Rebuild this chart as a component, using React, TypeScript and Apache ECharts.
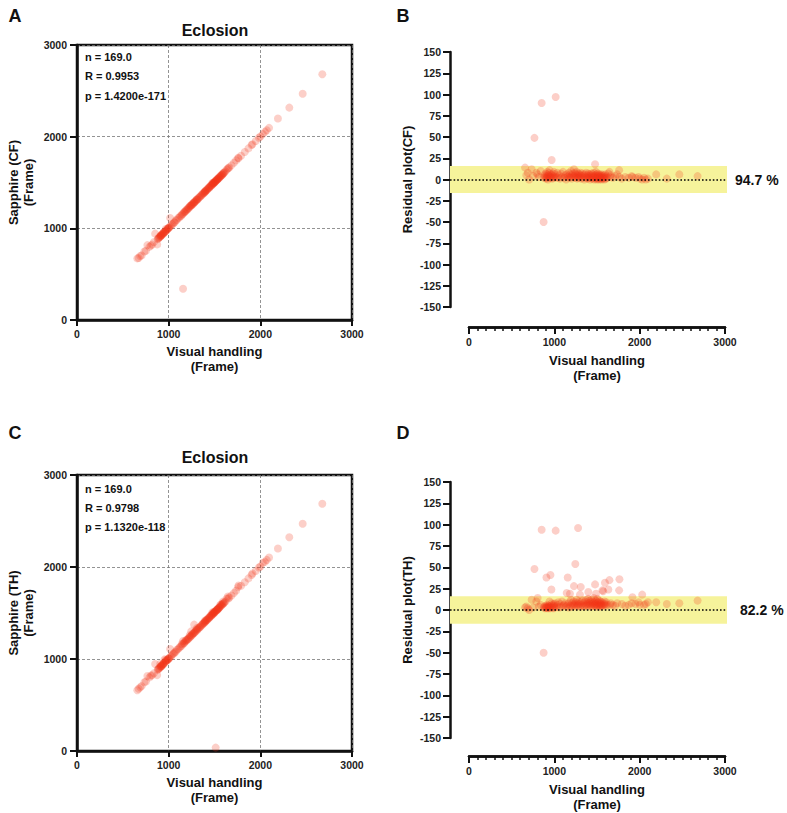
import React, { useEffect, useRef } from "react";
import * as echarts from "echarts";

// Visual handling (Frame) for each of the 169 individuals
const visual = [
  658, 672, 690, 705, 735, 752, 768, 790, 805, 820, 840, 852, 875,
  880, 885, 892, 897, 903, 908, 912, 915, 918, 921,
  927, 933, 938, 942, 944, 948, 955, 960, 966, 969,
  972, 978, 985, 990, 996, 1000, 1003, 1010, 1016, 1024,
  1035, 1047, 1058, 1066, 1078, 1090, 1102, 1115, 1126, 1138,
  1145, 1152, 1157, 1163, 1170, 1176, 1183, 1190, 1196, 1204,
  1210, 1217, 1224, 1230, 1236, 1241, 1246, 1250, 1255, 1261,
  1268, 1274, 1278, 1280, 1287, 1293, 1300, 1306, 1309, 1313,
  1320, 1328, 1336, 1343, 1351, 1358, 1364, 1371, 1378, 1384,
  1390, 1395, 1398, 1400, 1406, 1412, 1418, 1423, 1429, 1434,
  1440, 1445, 1450, 1456, 1461, 1466, 1470, 1474, 1477, 1481,
  1485, 1488, 1490, 1494, 1498, 1502, 1506, 1510, 1513, 1517,
  1521, 1526, 1530, 1532, 1535, 1540, 1544, 1549, 1554, 1558,
  1563, 1568, 1572, 1577, 1582, 1587, 1592, 1597, 1602, 1608,
  1620, 1632, 1645, 1652, 1660,
  1685, 1712, 1735, 1758, 1762, 1790, 1830, 1870, 1905, 1914,
  1950, 1985, 2000, 2028, 2050, 2070, 2095, 2192, 2316, 2462, 2676,
];

// Residual Sapphire(CF) - Visual (Frame)
const residualCF = [
  14, 5, 8, 0, 12, 4, 49, 8, 6, 3, 10, 90, -50,
  2, 5, 3, 7, 1, 4, 2, 6, 9, 3,
  0, 5, 8, 2, 11, 4, 3, 6, 2, 23,
  5, 1, 7, 3, 9, 4, 2, 6, 97, 3,
  8, 2, 5, 1, 7, 3, 9, 2, 5, 0,
  6, 3, -816, 4, 8, 2, 6, 3, 10, 1,
  5, 7, 3, 12, 4, 8, 2, 6, 3, 9,
  1, 5, 4, 7, 2, 6, 3, 8, 5, 1,
  4, 7, 2, 5, 0, 6, 3, 8, 2, 5,
  1, 4, 7, 2, 6, 3, 0, 5, 2, 7,
  4, 1, 6, 3, 8, 0, 4, 2, 18, 5,
  1, 9, 3, 6, 0, 4, 2, 7, 1, 5,
  3, 0, 6, 2, 4, 1, 5, 3, 0, 6,
  2, 4, 1, 5, 2, 0, 3, 6, 1, 4,
  2, 7, 9, 3, 5,
  2, 4, 6, 11, 3, 1, 3, 2, 4, 3,
  2, 3, 1, 0, 2, 0, 1, 6, 1, 6, 4,
];

// Residual Sapphire(TH) - Visual (Frame)
const residualTH = [
  3, 4, 2, 0, 12, 3, 48, 10, 14, 4, 6, 94, -50,
  3, 4, 2, 5, 3, 38, 4, 3, 6, 2,
  3, 5, 4, 3, 10, 2, 41, 5, 24, 8,
  3, 6, 4, 2, 7, 5, 3, 8, 93, 4,
  6, 9, 3, 7, 4, 10, 5, 6, 8, 4,
  20, 5, 38, 7, 3, 9, 19, 5, 12, 4,
  8, 6, 10, 28, 5, 7, 54, 9, 4, 12,
  6, 8, 96, 5, 10, 7, 18, 4, 27, 9,
  6, 11, 5, 8, 4, 10, 6, 12, 5, 9,
  7, 13, 21, 5, 8, 11, 6, 9, 4, 12,
  7, 5, 10, 8, 14, 5, 9, 6, 30, 11,
  7, 19, 4, 10, 6, 13, 5, 8, -1476, 9,
  6, 11, 5, 8, 4, 10, 7, 5, 9, 6,
  23, 5, 22, 8, 6, 10, 32, 7, 5, 9,
  6, 24, 35, 6, 8,
  6, 5, 8, 23, 36, 7, 5, 6, 8, 15,
  7, 9, 6, 18, 6, 7, 9, 9, 7, 8, 11,
];

const statsCF = ["n = 169.0", "R = 0.9953", "p = 1.4200e-171"];
const statsTH = ["n = 169.0", "R = 0.9798", "p = 1.1320e-118"];
const percentCF = "94.7 %";
const percentTH = "82.2 %";
const bandLimit = 16;

const FONT = "'Liberation Sans', Arial, Helvetica, sans-serif";
const DOT = "rgba(242,55,25,0.3)";
const INK = "#111";
const plain = (v: number) => String(v);

const labelStyle = (margin: number) => ({
  margin,
  fontSize: 10.5,
  fontWeight: "bold",
  color: "#222",
  fontFamily: FONT,
  formatter: plain,
});

const nameStyle = { fontSize: 13, fontWeight: "bold", lineHeight: 15, color: INK, fontFamily: FONT };

function scatterAxisX(gridIndex: number) {
  return {
    gridIndex,
    type: "value",
    min: 0,
    max: 3000,
    interval: 1000,
    axisLine: { show: true, onZero: false, lineStyle: { color: INK, width: 2.5 } },
    axisTick: { show: true, length: 6, lineStyle: { color: INK, width: 2 } },
    axisLabel: labelStyle(8),
    splitLine: { show: true, lineStyle: { color: "#777", width: 0.8, type: [3, 2] } },
    name: "Visual handling\n(Frame)",
    nameLocation: "middle",
    nameGap: 24,
    nameTextStyle: nameStyle,
  };
}

function scatterAxisY(gridIndex: number, name: string) {
  return {
    gridIndex,
    type: "value",
    min: 0,
    max: 3000,
    interval: 1000,
    axisLine: { show: true, onZero: false, lineStyle: { color: INK, width: 2.5 } },
    axisTick: { show: true, length: 7, lineStyle: { color: INK, width: 2 } },
    axisLabel: labelStyle(10),
    splitLine: { show: true, lineStyle: { color: "#777", width: 0.8, type: [3, 2] } },
    name,
    nameLocation: "middle",
    nameGap: 41,
    nameTextStyle: nameStyle,
  };
}

function residualAxisY(gridIndex: number, name: string) {
  return {
    gridIndex,
    type: "value",
    min: -150,
    max: 150,
    interval: 25,
    axisLine: { show: true, onZero: false, lineStyle: { color: INK, width: 2.5 } },
    axisTick: { show: true, length: 7, lineStyle: { color: INK, width: 2 } },
    axisLabel: labelStyle(9),
    splitLine: { show: false },
    name,
    nameLocation: "middle",
    nameGap: 35,
    nameTextStyle: nameStyle,
  };
}

function hiddenAxisX(gridIndex: number) {
  return { gridIndex, type: "value", min: -220, max: 3020, show: false };
}

// Minor ticks every 100 frames
function minorTickAxisX(gridIndex: number) {
  return {
    gridIndex,
    type: "value",
    position: "bottom",
    min: 0,
    max: 3000,
    interval: 100,
    axisLine: { show: true, onZero: false, lineStyle: { color: INK, width: 2.5 } },
    axisTick: { show: true, length: 4, lineStyle: { color: INK, width: 1.5 } },
    axisLabel: { show: false },
    splitLine: { show: false },
  };
}

// Major ticks + labels every 1000 frames
function majorTickAxisX(gridIndex: number) {
  return {
    gridIndex,
    type: "value",
    position: "bottom",
    min: 0,
    max: 3000,
    interval: 1000,
    axisLine: { show: true, onZero: false, lineStyle: { color: INK, width: 2.5 } },
    axisTick: { show: true, length: 7, lineStyle: { color: INK, width: 2 } },
    axisLabel: labelStyle(9),
    splitLine: { show: false },
    name: "Visual handling\n(Frame)",
    nameLocation: "middle",
    nameGap: 26,
    nameTextStyle: nameStyle,
  };
}

function hiddenAxisY(gridIndex: number) {
  return { gridIndex, type: "value", min: 0, max: 1, show: false };
}

function textEl(x: number, y: number, text: string, size: number, align = "left") {
  return {
    type: "text",
    x,
    y,
    silent: true,
    style: {
      text,
      fill: INK,
      fontSize: size,
      fontWeight: "bold",
      fontFamily: FONT,
      align,
      textAlign: align,
      verticalAlign: "middle",
      textVerticalAlign: "middle",
    },
  };
}

export default function App() {
  const ref = useRef<HTMLDivElement>(null);

  useEffect(() => {
    if (!ref.current) return;
    const chart = echarts.init(ref.current, undefined, { renderer: "svg" });

    const pairsCF = visual.map((v, i) => [v, v + residualCF[i]]);
    const pairsTH = visual.map((v, i) => [v, v + residualTH[i]]);
    const resCF = visual.map((v, i) => [v, residualCF[i]]);
    const resTH = visual.map((v, i) => [v, residualTH[i]]);

    const dotStyle = { color: DOT, borderWidth: 0 };

    const residualMarkers = (pct: string, dist: number) => ({
      markArea: {
        silent: true,
        itemStyle: { color: "#F6F39B", opacity: 1 },
        data: [[{ yAxis: bandLimit }, { yAxis: -bandLimit }]],
      },
      markLine: {
        silent: true,
        symbol: "none",
        lineStyle: { color: "#000", width: 1.6, type: [1.6, 2] },
        label: {
          show: true,
          position: "end",
          distance: dist,
          formatter: pct,
          fontSize: 14,
          fontWeight: "bold",
          color: INK,
          fontFamily: FONT,
        },
        data: [{ yAxis: 0 }],
      },
    });

    chart.setOption({
      animation: false,
      backgroundColor: "#fff",
      textStyle: { fontFamily: FONT },
      grid: [
        { left: 77, top: 45, width: 275, height: 275, show: true, borderColor: INK, borderWidth: 2.5, backgroundColor: "transparent" },
        { left: 450, top: 52, width: 277, height: 255 },
        { left: 469, top: 307, width: 256, height: 20 },
        { left: 77, top: 475, width: 275, height: 276, show: true, borderColor: INK, borderWidth: 2.5, backgroundColor: "transparent" },
        { left: 450, top: 482, width: 277, height: 256 },
        { left: 469, top: 737, width: 256, height: 20 },
      ],
      xAxis: [
        scatterAxisX(0),
        hiddenAxisX(1),
        minorTickAxisX(2),
        majorTickAxisX(2),
        scatterAxisX(3),
        hiddenAxisX(4),
        minorTickAxisX(5),
        majorTickAxisX(5),
      ],
      yAxis: [
        scatterAxisY(0, "Sapphire (CF)\n(Frame)"),
        residualAxisY(1, "Residual plot(CF)"),
        hiddenAxisY(2),
        scatterAxisY(3, "Sapphire (TH)\n(Frame)"),
        residualAxisY(4, "Residual plot(TH)"),
        hiddenAxisY(5),
      ],
      series: [
        { type: "scatter", xAxisIndex: 0, yAxisIndex: 0, data: pairsCF, symbolSize: 8, itemStyle: dotStyle, z: 3 },
        { type: "scatter", xAxisIndex: 1, yAxisIndex: 1, data: resCF, symbolSize: 8, itemStyle: dotStyle, z: 3, ...residualMarkers(percentCF, 8) },
        { type: "scatter", xAxisIndex: 4, yAxisIndex: 3, data: pairsTH, symbolSize: 8, itemStyle: dotStyle, z: 3 },
        { type: "scatter", xAxisIndex: 5, yAxisIndex: 4, data: resTH, symbolSize: 8, itemStyle: dotStyle, z: 3, ...residualMarkers(percentTH, 13) },
      ],
      graphic: [
        textEl(15, 16, "A", 18, "center"),
        textEl(403, 16, "B", 18, "center"),
        textEl(15, 433, "C", 18, "center"),
        textEl(403, 433, "D", 18, "center"),
        textEl(215, 30, "Eclosion", 16, "center"),
        textEl(215, 457, "Eclosion", 16, "center"),
        textEl(85, 57, statsCF[0], 11),
        textEl(85, 76, statsCF[1], 11),
        textEl(85, 96, statsCF[2], 11),
        textEl(85, 489, statsTH[0], 11),
        textEl(85, 508, statsTH[1], 11),
        textEl(85, 527, statsTH[2], 11),
      ],
    });

    return () => chart.dispose();
  }, []);

  return (
    <div
      ref={ref}
      style={{ position: "fixed", left: 0, top: 0, width: 787, height: 813, background: "#fff" }}
    />
  );
}
